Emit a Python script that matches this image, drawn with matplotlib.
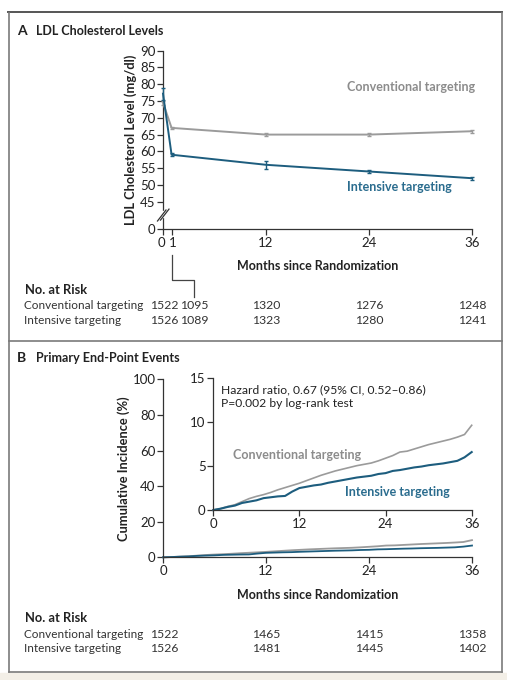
import numpy as np
import matplotlib
matplotlib.use('Agg')
import matplotlib.pyplot as plt
from matplotlib.patches import Rectangle
from matplotlib.lines import Line2D
import matplotlib.transforms as mtransforms

plt.rcParams['font.family'] = ['Lato', 'DejaVu Sans']

# ---- panel A data: LDL cholesterol (mg/dl)
ldl_months = [0, 1, 12, 24, 36]
ldl_conv = [74.5, 67, 65, 65, 66]
ldl_conv_err = [0.6, 0.4, 0.4, 0.4, 0.4]
ldl_int = [77.2, 59, 56, 54, 52]
ldl_int_err = [1.8, 0.4, 1.2, 0.4, 0.5]

riskA_conv = ['1522', '1095', '1320', '1276', '1248']
riskA_int = ['1526', '1089', '1323', '1280', '1241']

# ---- panel B data: cumulative incidence (%) read monthly
km_months = list(range(0, 37))
km_conv = [0, 0.15, 0.4, 0.6, 0.95, 1.3, 1.55, 1.75, 2.0, 2.3, 2.55, 2.8, 3.05,
           3.35, 3.65, 3.95, 4.2, 4.45, 4.65, 4.85, 5.05, 5.2, 5.35, 5.6, 5.9,
           6.2, 6.6, 6.7, 6.95, 7.2, 7.45, 7.65, 7.85, 8.05, 8.3, 8.6, 9.65]
km_int = [0, 0.15, 0.35, 0.5, 0.8, 0.95, 1.1, 1.35, 1.45, 1.55, 1.6, 2.1, 2.5,
          2.65, 2.8, 2.9, 3.1, 3.25, 3.4, 3.55, 3.7, 3.8, 3.9, 4.1, 4.2,
          4.45, 4.55, 4.7, 4.85, 4.95, 5.1, 5.2, 5.3, 5.45, 5.6, 6.0, 6.6]

riskB_months = [0, 12, 24, 36]
riskB_conv = ['1522', '1465', '1415', '1358']
riskB_int = ['1526', '1481', '1445', '1402']

GRAY = '#9b9b9b'
TEAL = '#1d5d7e'
GRAY_TXT = '#8c8c8c'
TEAL_TXT = '#2a6c8e'
AX = '#333333'
TXT = '#222222'

W, H = 507, 680
fig = plt.figure(figsize=(W / 100, H / 100), dpi=100)

def fx(px):
    return px / W

def fy(py):
    return 1 - py / H

def box(l, t, r, b):
    return [fx(l), fy(b), fx(r) - fx(l), fy(t) - fy(b)]

# frame
fig.add_artist(Line2D([fx(8), fx(502)], [fy(11.5), fy(11.5)], color='#555555', lw=1.4))
for xs, ys in [([9, 9], [13, 672]), ([501.5, 501.5], [13, 672]),
               ([9, 501.5], [341, 341]), ([9, 501.5], [672, 672])]:
    fig.add_artist(Line2D([fx(v) for v in xs], [fy(v) for v in ys], color='#7a7a7a', lw=1.2))
fig.add_artist(Rectangle((0, 0), 1, fy(673), color='#f3efe7', transform=fig.transFigure, zorder=-1))

def style_axis(ax):
    for s in ['top', 'right']:
        ax.spines[s].set_visible(False)
    for s in ['left', 'bottom']:
        ax.spines[s].set_color(AX)
        ax.spines[s].set_linewidth(0.9)
    ax.tick_params(direction='out', length=4, width=0.9, color=AX, labelsize=9.5,
                   labelcolor=TXT, pad=1.5)
    ax.patch.set_alpha(0)

# ---------------- Panel A
fig.text(fx(17), fy(31), 'A', fontsize=10, fontweight='bold', va='center', color=TXT)
fig.text(fx(36), fy(31), 'LDL Cholesterol Levels', fontsize=9, fontweight='bold', va='center', color=TXT)

axA = fig.add_axes(box(163, 50.7, 472, 229))
style_axis(axA)
y0pos = 45 - (229 - 201.7) / 16.78 * 5
axA.set_xlim(0, 36)
axA.set_ylim(y0pos, 90)
axA.set_yticks([y0pos] + list(range(45, 91, 5)))
axA.set_yticklabels(['0'] + [str(v) for v in range(45, 91, 5)])
axA.set_xticks(ldl_months)
axA.set_xticklabels(['0', '1', '12', '24', '36'])
for lab, dx in zip(axA.get_xticklabels()[:2], [-1.5, 1.0]):
    lab.set_transform(lab.get_transform() + mtransforms.ScaledTranslation(dx / 100, 0, fig.dpi_scale_trans))

axA.errorbar(ldl_months, ldl_conv, yerr=ldl_conv_err, color=GRAY, lw=1.4, capsize=1.5,
             elinewidth=1, clip_on=False, zorder=3)
axA.errorbar(ldl_months, ldl_int, yerr=ldl_int_err, color=TEAL, lw=1.4, capsize=1.5,
             elinewidth=1, clip_on=False, zorder=4)
axA.text(0.595, 0.795, 'Conventional targeting', transform=axA.transAxes, color=GRAY_TXT,
         fontsize=9, fontweight='bold', va='center')
axA.text(0.595, 0.235, 'Intensive targeting', transform=axA.transAxes, color=TEAL_TXT,
         fontsize=9, fontweight='bold', va='center')
axA.set_ylabel('LDL Cholesterol Level (mg/dl)', fontsize=9.3, fontweight='bold', color=TXT, labelpad=2)
# axis break marks
fig.add_artist(Rectangle((fx(161.5), fy(217)), fx(3), fy(211) - fy(217), color='white', zorder=5,
                         transform=fig.transFigure))
for off in [0, 3]:
    fig.add_artist(Line2D([fx(157.5 + off), fx(166 + off)], [fy(221 - off * 0.3), fy(210 - off * 0.3)],
                          color=AX, lw=0.9, zorder=6))
fig.text(fx(318), fy(266), 'Months since Randomization', fontsize=9, fontweight='bold',
         ha='center', va='center', color=TXT)

# connector for month-1 risk numbers
cx = 163 + 1 / 36 * 309
fig.add_artist(Line2D([fx(cx), fx(cx), fx(194), fx(194)], [fy(255), fy(280), fy(280), fy(297)],
                      color='#444444', lw=0.9))

fig.text(fx(25), fy(290), 'No. at Risk', fontsize=9.3, fontweight='bold', va='center', color=TXT)
fig.text(fx(24), fy(306), 'Conventional targeting', fontsize=8.5, va='center', color='#333333')
fig.text(fx(24), fy(321), 'Intensive targeting', fontsize=8.5, va='center', color='#333333')
riskA_x = [164.5, 194, 266, 369, 472]
for xp, a, b in zip(riskA_x, riskA_conv, riskA_int):
    fig.text(fx(xp), fy(306), a, fontsize=8.8, ha='center', va='center', color='#333333')
    fig.text(fx(xp), fy(321), b, fontsize=8.8, ha='center', va='center', color='#333333')

# ---------------- Panel B
fig.text(fx(17), fy(358), 'B', fontsize=10, fontweight='bold', va='center', color=TXT)
fig.text(fx(36), fy(358), 'Primary End-Point Events', fontsize=9, fontweight='bold', va='center', color=TXT)

axB = fig.add_axes(box(163, 379.3, 472, 557.3))
style_axis(axB)
axB.set_xlim(0, 36)
axB.set_ylim(0, 100)
axB.set_xticks([0, 12, 24, 36])
axB.set_yticks(range(0, 101, 20))
axB.plot(km_months, km_conv, color=GRAY, lw=1.3, clip_on=False)
axB.plot(km_months, km_int, color=TEAL, lw=1.3, clip_on=False)
axB.set_ylabel('Cumulative Incidence (%)', fontsize=9.3, fontweight='bold', color=TXT, labelpad=2)

axI = fig.add_axes(box(213.3, 378.3, 471.7, 510))
style_axis(axI)
axI.set_xlim(0, 36)
axI.set_ylim(0, 15)
axI.set_xticks([0, 12, 24, 36])
axI.set_yticks([0, 5, 10, 15])
axI.plot(km_months, km_conv, color=GRAY, lw=1.2, clip_on=False)
axI.plot(km_months, km_int, color=TEAL, lw=1.5, clip_on=False)
axI.text(0.03, 0.915, 'Hazard ratio, 0.67 (95% CI, 0.52\u20130.86)', transform=axI.transAxes,
         fontsize=8.7, va='center', color=TXT)
axI.text(0.03, 0.805, 'P=0.002 by log-rank test', transform=axI.transAxes,
         fontsize=8.7, va='center', color=TXT)
axI.text(0.075, 0.42, 'Conventional targeting', transform=axI.transAxes, color=GRAY_TXT,
         fontsize=9, fontweight='bold', va='center')
axI.text(0.51, 0.135, 'Intensive targeting', transform=axI.transAxes, color=TEAL_TXT,
         fontsize=9, fontweight='bold', va='center')

fig.text(fx(318), fy(595), 'Months since Randomization', fontsize=9, fontweight='bold',
         ha='center', va='center', color=TXT)
fig.text(fx(25), fy(618), 'No. at Risk', fontsize=9.3, fontweight='bold', va='center', color=TXT)
fig.text(fx(24), fy(634), 'Conventional targeting', fontsize=8.5, va='center', color='#333333')
fig.text(fx(24), fy(649), 'Intensive targeting', fontsize=8.5, va='center', color='#333333')
for m, a, b in zip(riskB_months, riskB_conv, riskB_int):
    xp = 163 + m / 36 * 309 + (1.5 if m == 0 else 0)
    fig.text(fx(xp), fy(634), a, fontsize=8.8, ha='center', va='center', color='#333333')
    fig.text(fx(xp), fy(649), b, fontsize=8.8, ha='center', va='center', color='#333333')

fig.savefig('out.png', dpi=100)
